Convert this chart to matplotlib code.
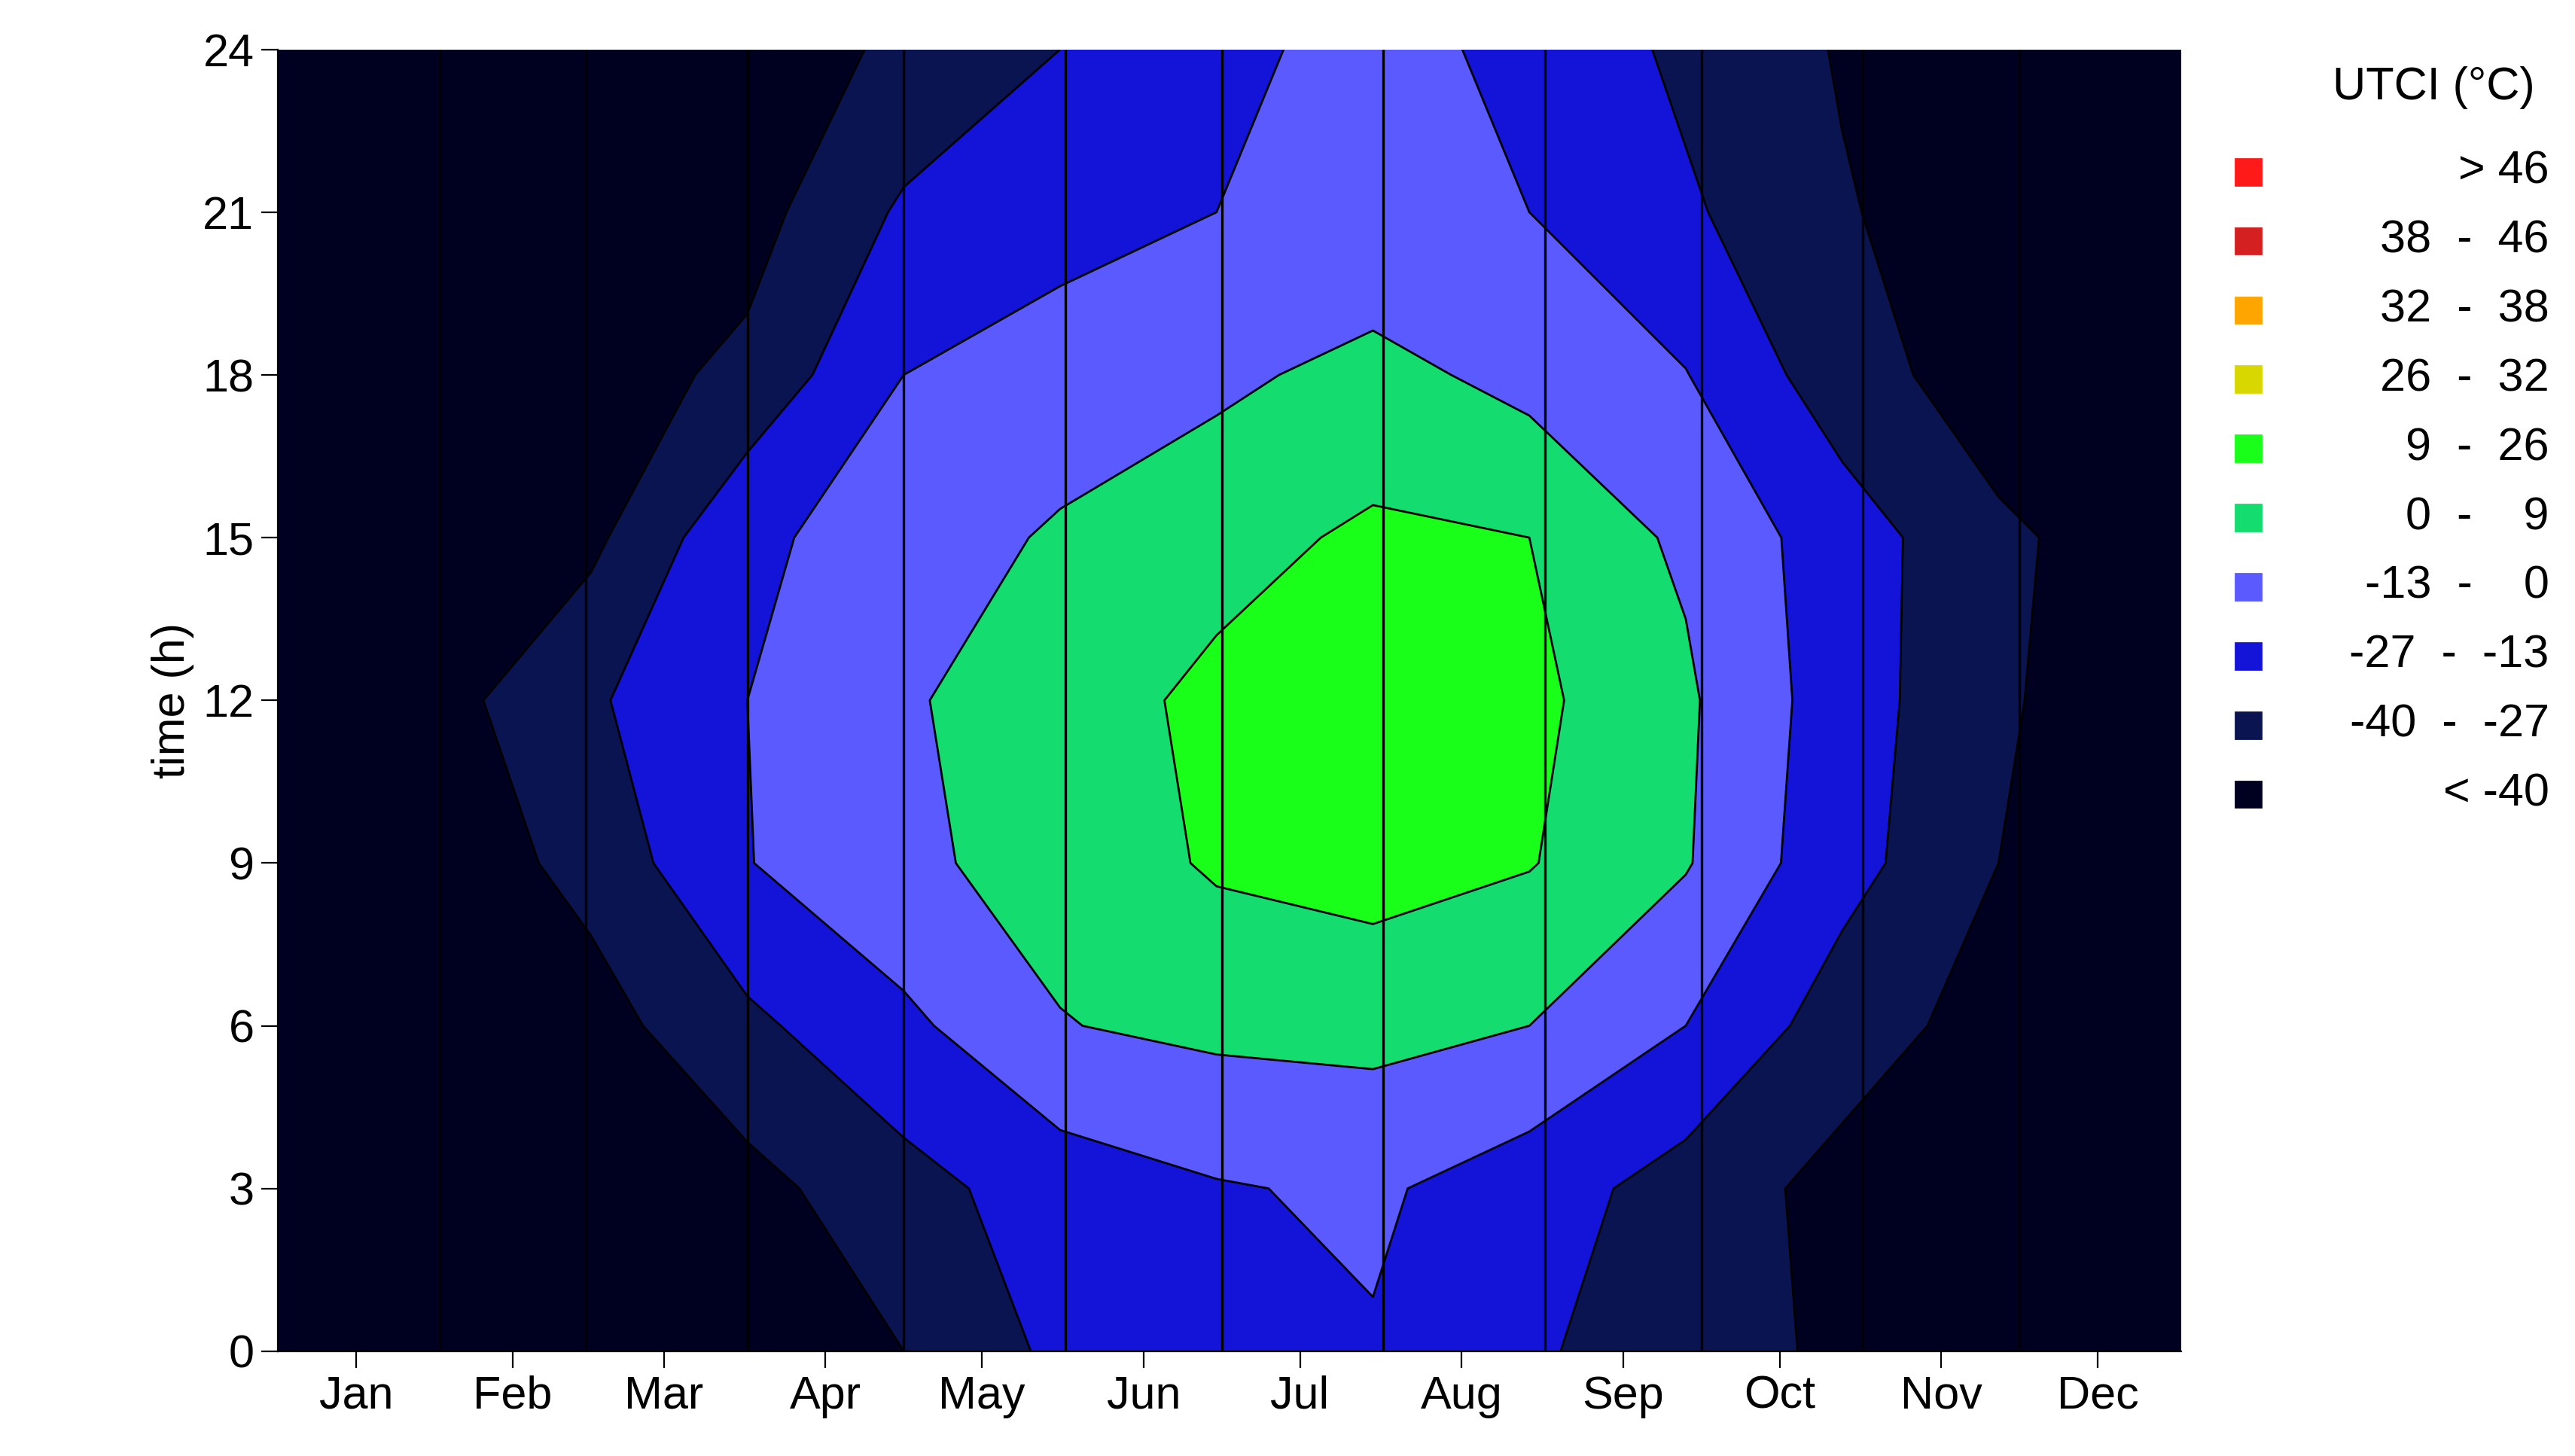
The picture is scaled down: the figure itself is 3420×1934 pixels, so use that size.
import numpy as np
import matplotlib
matplotlib.use("Agg")
import matplotlib.pyplot as plt

plt.rcParams['font.family'] = ['Liberation Sans', 'DejaVu Sans']

days = [0, 30, 60, 90, 120, 150, 180, 210, 240, 270, 300, 330, 365]
hours = [0, 3, 6, 9, 12, 15, 18, 21, 24]
# UTCI (°C) estimated per hour row (0..24 h), per day column
utci = [
    [-49, -49, -49, -46, -40, -24, -18, -14, -25, -35, -42, -48, -49],
    [-49, -49, -48, -44, -32, -20, -14, -11, -20, -33, -44, -48, -49],
    [-48, -48, -45, -30, -16, -0.5, 3, 4, 0, -13, -34, -45, -48],
    [-47, -48, -36, -13.5, -2, 4, 10, 12, 9.5, 1, -22, -40, -47],
    [-46, -45, -29, -13, -1, 5, 11, 14, 11, 2, -20, -39, -46],
    [-47, -47, -43, -16, -6, 1.5, 6, 10.5, 9, -2, -20, -38, -47],
    [-48, -48, -46, -37, -13, -7, -2, 3, -3, -12.5, -35, -46, -48],
    [-49, -49, -48, -45, -25, -18, -13, -8, -13, -25, -39, -47, -49],
    [-49, -49, -49, -46, -38, -27, -16, -9, -16, -30, -41, -48, -49],
]
levels = [-100, -40, -27, -13, 0, 9, 26, 32, 38, 46, 100]
colors = ['#000020', '#0a1450', '#1414d8', '#5a5aff', '#14dc6e',
          '#1aff1a', '#d8d800', '#ffa500', '#d42020', '#ff1a1a']
legend_labels = ['> 46', '38  -  46', '32  -  38', '26  -  32', '9  -  26',
                 '0  -    9', '-13  -    0', '-27  -  -13', '-40  -  -27', '< -40']
month_starts = [31, 59, 90, 120, 151, 181, 212, 243, 273, 304, 334]
month_mid = [15, 45, 74, 105, 135, 166, 196, 227, 258, 288, 319, 349]
months = ['Jan', 'Feb', 'Mar', 'Apr', 'May', 'Jun', 'Jul', 'Aug', 'Sep', 'Oct', 'Nov', 'Dec']

fig = plt.figure(figsize=(17.1, 9.67), dpi=200)
ax = fig.add_axes([0.108, 0.072, 0.739, 0.894])
X, Y = np.meshgrid(days, hours)
Z = np.array(utci, dtype=float)
ax.contourf(X, Y, Z, levels=levels, colors=colors)
ax.contour(X, Y, Z, levels=levels[1:-1], colors='black', linewidths=1.0,
           linestyles='solid')
for m in month_starts:
    ax.axvline(m, color='black', lw=1.2)
ax.set_xlim(0, 365)
ax.set_ylim(0, 24)
ax.set_yticks(range(0, 25, 3))
ax.set_xticks(month_mid)
ax.set_xticklabels(months)
ax.tick_params(labelsize=22, length=8)
ax.set_ylabel('time (h)', fontsize=22)
for s in ax.spines.values():
    s.set_visible(False)
ax.spines['left'].set_visible(True)
ax.spines['bottom'].set_visible(True)

fig.text(0.945, 0.94, 'UTCI (°C)', fontsize=22, ha='center', va='center')
for i, (c, lab) in enumerate(zip(colors[::-1], legend_labels)):
    y = 0.882 - i * 0.0475
    fig.patches.append(plt.Rectangle((0.868, y - 0.009), 0.010, 0.018,
                                     transform=fig.transFigure, color=c))
    fig.text(0.99, y, lab, fontsize=22, ha='right', va='center')

fig.savefig('out.png', dpi=200)
